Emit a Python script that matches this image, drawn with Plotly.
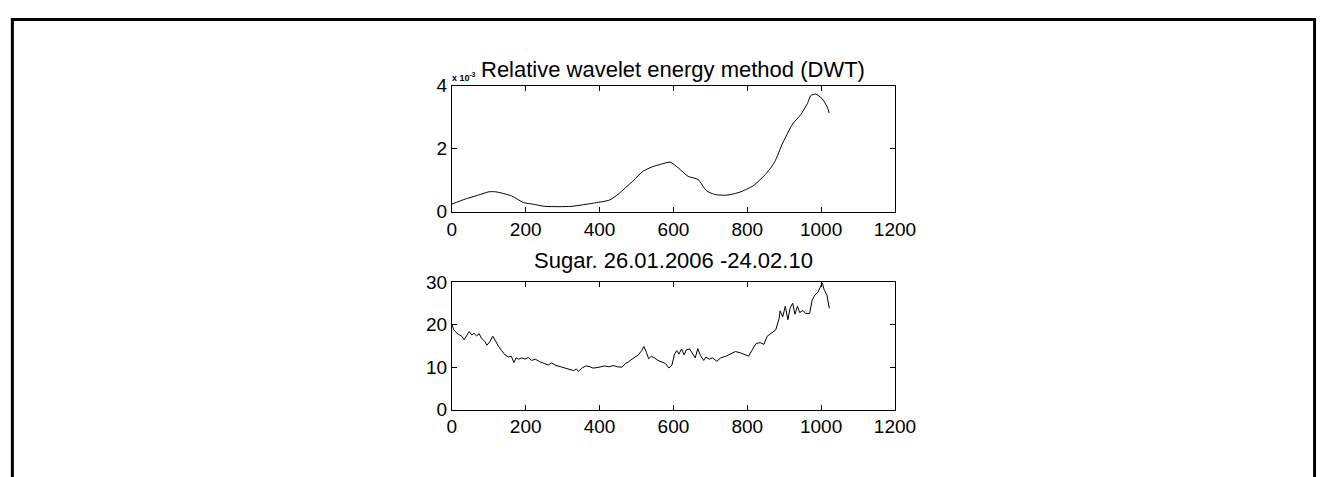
import plotly.graph_objects as go

# Top: relative wavelet energy (units of 1e-3)
energy_x = [0, 36, 73, 100, 119, 162, 194, 219, 252, 290, 323, 350, 382, 427, 450, 471, 493, 516,
            542, 565, 591, 613, 640, 667, 689, 711, 738, 757, 780, 816, 852, 874, 896, 923, 945,
            963, 972, 985, 1003, 1016, 1022]
energy_y = [0.24, 0.40, 0.53, 0.63, 0.63, 0.50, 0.29, 0.24, 0.17, 0.16, 0.17, 0.21, 0.27, 0.37,
            0.55, 0.77, 1.00, 1.27, 1.42, 1.50, 1.57, 1.39, 1.12, 1.02, 0.67, 0.55, 0.52, 0.55,
            0.62, 0.82, 1.22, 1.57, 2.18, 2.78, 3.08, 3.43, 3.68, 3.73, 3.58, 3.33, 3.13]

# Bottom: sugar price
sugar_x = [1, 5, 10, 14, 21, 27, 33, 39, 43, 47, 54, 60, 67, 74, 80, 89, 95, 102, 111, 118, 126,
           135, 144, 154, 161, 168, 174, 181, 189, 198, 207, 216, 226, 238, 251, 261, 270, 282,
           295, 308, 321, 330, 337, 343, 352, 363, 374, 382, 393, 404, 413, 426, 437, 448, 461,
           470, 479, 488, 496, 505, 514, 520, 527, 533, 540, 549, 558, 567,
           578, 588, 596, 603, 609, 615, 622, 629, 635, 644, 653, 659, 666, 673, 682, 688, 697,
           706, 718, 728, 742, 755, 768, 781, 795, 804, 812, 824, 835, 845, 854, 865, 877, 886,
           889, 896, 903, 910, 916, 923, 929, 936, 942, 951, 958, 969, 976, 983, 992, 998, 1003,
           1009, 1016, 1022]
sugar_y = [19.9, 18.9, 18.4, 18.0, 17.6, 17.3, 16.5, 17.4, 18.0, 18.4, 17.6, 18.0, 17.4, 17.9,
           16.9, 16.1, 15.2, 15.9, 17.3, 16.1, 15.0, 13.9, 12.9, 12.4, 12.6, 11.1, 12.2, 11.9,
           12.2, 11.9, 12.3, 11.6, 11.9, 11.3, 10.9, 10.5, 11.0, 10.4, 10.1, 9.8, 9.5, 9.2, 9.6,
           9.0, 9.8, 10.3, 10.1, 9.8, 9.9, 10.1, 10.3, 10.1, 10.4, 10.1, 10.0, 10.9, 11.3, 11.9,
           12.4, 12.9, 13.9, 14.9, 13.5, 12.0, 12.6, 12.2, 11.6, 11.3,
           10.9, 9.8, 10.5, 13.1, 13.9, 13.1, 14.3, 12.9, 14.1, 14.3, 13.1, 12.2, 14.4, 12.8,
           11.6, 12.4, 11.9, 12.2, 11.4, 12.2, 12.6, 13.1, 13.7, 13.4, 12.9, 12.6, 13.9, 15.6,
           15.8, 15.4, 17.3, 18.0, 18.8, 21.4, 23.3, 21.9, 24.4, 21.2, 24.0, 25.1, 22.5, 24.4,
           22.9, 23.4, 22.7, 22.7, 25.9, 27.0, 27.8, 28.9, 29.9, 28.1, 27.0, 23.9]

x_ticks = [0, 200, 400, 600, 800, 1000, 1200]
top_ticks = [0, 2, 4]
bottom_ticks = [0, 10, 20, 30]

W, H = 1338, 477
xdom = [455.7 / W, 907.6 / W]
top_dom = [1 - 211 / H, 1 - 79 / H]
bot_dom = [1 - 418 / H, 1 - 285 / H]

FONT = "Liberation Sans, Arial, sans-serif"

fig = go.Figure()
fig.add_trace(go.Scatter(x=energy_x, y=energy_y, mode="lines", xaxis="x", yaxis="y",
                         line=dict(color="black", width=1, shape="spline", smoothing=0.6),
                         showlegend=False))
fig.add_trace(go.Scatter(x=sugar_x, y=sugar_y, mode="lines", xaxis="x2", yaxis="y2",
                         line=dict(color="black", width=1), showlegend=False))

axis_common = dict(showline=True, linecolor="black", linewidth=1, mirror="allticks",
                   ticks="inside", ticklen=5, tickcolor="black", showgrid=False,
                   zeroline=False, tickfont=dict(family=FONT, size=19, color="black"))

fig.update_layout(
    width=W, height=H,
    margin=dict(l=0, r=0, t=0, b=0),
    paper_bgcolor="white", plot_bgcolor="white",
    xaxis=dict(domain=xdom, anchor="y", range=[0, 1200], tickvals=x_ticks, **axis_common),
    yaxis=dict(domain=top_dom, anchor="x", range=[0, 4], tickvals=top_ticks, **axis_common),
    xaxis2=dict(domain=xdom, anchor="y2", range=[0, 1200], tickvals=x_ticks, **axis_common),
    yaxis2=dict(domain=bot_dom, anchor="x2", range=[0, 30], tickvals=bottom_ticks, **axis_common),
    annotations=[
        dict(text="Relative wavelet energy method (DWT)", xref="paper", yref="paper",
             x=681.6 / W, y=1 - 62 / H, xanchor="center", yanchor="middle", showarrow=False,
             font=dict(family=FONT, size=22, color="black")),
        dict(text="Sugar. 26.01.2006 -24.02.10", xref="paper", yref="paper",
             x=681.6 / W, y=1 - 262 / H, xanchor="center", yanchor="middle", showarrow=False,
             font=dict(family=FONT, size=22, color="black")),
        dict(text="<b>x 10<sup>-3</sup></b>", xref="paper", yref="paper",
             x=455 / W, y=1 - 77 / H, xanchor="left", yanchor="bottom", showarrow=False,
             borderpad=0, font=dict(family=FONT, size=9, color="black")),
    ],
    shapes=[
        dict(type="line", xref="paper", yref="paper", x0=7.5 / W, x1=7.5 / W, y0=1 - 10 / H, y1=-0.1,
             line=dict(color="black", width=3)),
        dict(type="line", xref="paper", yref="paper", x0=1335.5 / W, x1=1335.5 / W, y0=1 - 10 / H,
             y1=-0.1, line=dict(color="black", width=3)),
        dict(type="line", xref="paper", yref="paper", x0=6 / W, x1=1337 / W, y0=1 - 10 / H,
             y1=1 - 10 / H, line=dict(color="black", width=3)),
    ],
)

fig.write_html("out.html", config={"displayModeBar": False},
               post_script="document.body.style.margin='0';document.body.style.overflow='hidden';")
